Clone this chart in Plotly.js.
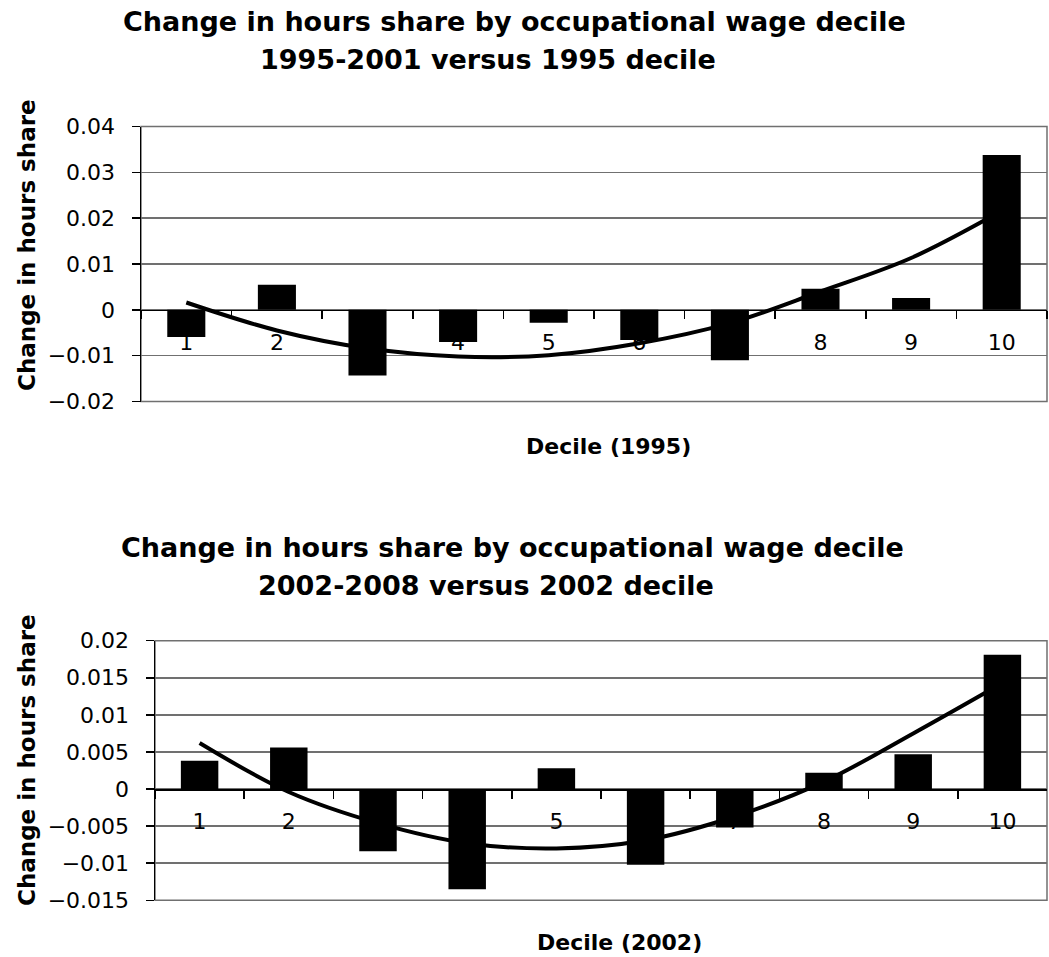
<!DOCTYPE html>
<html>
<head>
<meta charset="utf-8">
<script src="https://cdn.plot.ly/plotly-3.0.1.min.js"></script>
<style>html,body{margin:0;padding:0;background:#fff;}#chart{width:1049px;height:957px;}</style>
</head>
<body>
<div id="chart"></div>
<script>
// ---- data ----
const deciles = ["1","2","3","4","5","6","7","8","9","10"];
const change1995 = [-0.0059, 0.0055, -0.0143, -0.0070, -0.0028, -0.0066, -0.0110, 0.0046, 0.0026, 0.0338];
const trend1995  = [0.0016, -0.0045, -0.0084, -0.0102, -0.0099, -0.0073, -0.0029, 0.0040, 0.0113, 0.0216];
const change2002 = [0.0038, 0.0056, -0.0084, -0.0135, 0.0028, -0.0102, -0.0052, 0.0022, 0.0047, 0.0181];
const trend2002  = [0.0062, -0.0004, -0.0046, -0.0073, -0.0080, -0.0069, -0.0037, 0.0010, 0.0075, 0.0143];
const titleTop1 = "Change in hours share by occupational wage decile";
const titleTop2 = "1995-2001 versus 1995 decile";
const titleBot1 = "Change in hours share by occupational wage decile";
const titleBot2 = "2002-2008 versus 2002 decile";
const yTitle = "Change in hours share";
const xTitleTop = "Decile (1995)";
const xTitleBot = "Decile (2002)";

// ---- layout geometry (pixels) ----
const W = 1049, H = 957;
const px = v => v / W;
const py = v => 1 - v / H;
const FONT = "DejaVu Sans";

const dom1 = {x: [px(141), px(1047)], y: [py(401.5), py(126.5)], range: [-0.02, 0.04], dtick: 0.01};
const dom2 = {x: [px(155), px(1047)], y: [py(900.3), py(640.7)], range: [-0.015, 0.02], dtick: 0.005};
function zeroPos(d) {
  return d.y[0] + (0 - d.range[0]) / (d.range[1] - d.range[0]) * (d.y[1] - d.y[0]);
}

const traces = [
  {type: "bar", x: deciles, y: change1995, xaxis: "x", yaxis: "y",
   marker: {color: "#000", line: {width: 0}}, hoverinfo: "x+y"},
  {type: "scatter", mode: "lines", x: deciles, y: trend1995, xaxis: "x", yaxis: "y",
   line: {color: "#000", width: 4, shape: "spline", smoothing: 1}},
  {type: "bar", x: deciles, y: change2002, xaxis: "x2", yaxis: "y2",
   marker: {color: "#000", line: {width: 0}}},
  {type: "scatter", mode: "lines", x: deciles, y: trend2002, xaxis: "x2", yaxis: "y2",
   line: {color: "#000", width: 4, shape: "spline", smoothing: 1}}
];

function xAxis(d, yname) {
  return {
    type: "category", domain: d.x, anchor: "free", position: zeroPos(d),
    showgrid: false, zeroline: false,
    showline: true, linecolor: "#000", linewidth: 1.5,
    ticks: "outside", tickson: "boundaries", ticklen: 8, tickwidth: 1.5, tickcolor: "#000",
    tickfont: {family: FONT, size: 22, color: "#000"},
    ticklabelstandoff: 12,
    layer: "below traces", automargin: false, fixedrange: true
  };
}
function yAxis(d, xname) {
  return {
    domain: d.y, anchor: xname, range: d.range, dtick: d.dtick, tick0: 0,
    showgrid: true, gridcolor: "#707070", gridwidth: 1.5,
    zeroline: false, showline: true, linecolor: "#000", linewidth: 1.5,
    ticks: "outside", ticklen: 8, tickwidth: 1.5, tickcolor: "#000",
    tickfont: {family: FONT, size: 22, color: "#000"},
    ticklabelstandoff: 12,
    automargin: false, fixedrange: true
  };
}

function ann(text, x, y, size, rot) {
  return {text: text, x: px(x), y: py(y), xref: "paper", yref: "paper",
          xanchor: "center", yanchor: "middle", showarrow: false, textangle: rot || 0,
          font: {family: FONT, size: size, color: "#000"}};
}

const layout = {
  width: W, height: H,
  margin: {l: 0, r: 0, t: 0, b: 0, pad: 0},
  paper_bgcolor: "#fff", plot_bgcolor: "#fff",
  showlegend: false, bargap: 0.58,
  xaxis: xAxis(dom1), yaxis: yAxis(dom1, "x"),
  xaxis2: xAxis(dom2), yaxis2: yAxis(dom2, "x2"),
  shapes: [
    {type: "rect", xref: "x domain", yref: "y domain", x0: 0, x1: 1, y0: 0, y1: 1,
     line: {color: "#707070", width: 1.5}, layer: "below"},
    {type: "rect", xref: "x2 domain", yref: "y2 domain", x0: 0, x1: 1, y0: 0, y1: 1,
     line: {color: "#707070", width: 1.5}, layer: "below"}
  ],
  annotations: [
    ann("<b>" + titleTop1 + "</b>", 514, 22, 27),
    ann("<b>" + titleTop2 + "</b>", 488, 59.5, 27),
    ann("<b>" + titleBot1 + "</b>", 512, 547, 27),
    ann("<b>" + titleBot2 + "</b>", 486, 585, 27),
    ann("<b>" + xTitleTop + "</b>", 608, 446, 22),
    ann("<b>" + xTitleBot + "</b>", 620, 942, 22),
    ann("<b>" + yTitle + "</b>", 27, 245, 23, -90),
    ann("<b>" + yTitle + "</b>", 27, 760, 23, -90)
  ]
};

Plotly.newPlot("chart", traces, layout, {displayModeBar: false, staticPlot: true});
</script>
</body>
</html>
